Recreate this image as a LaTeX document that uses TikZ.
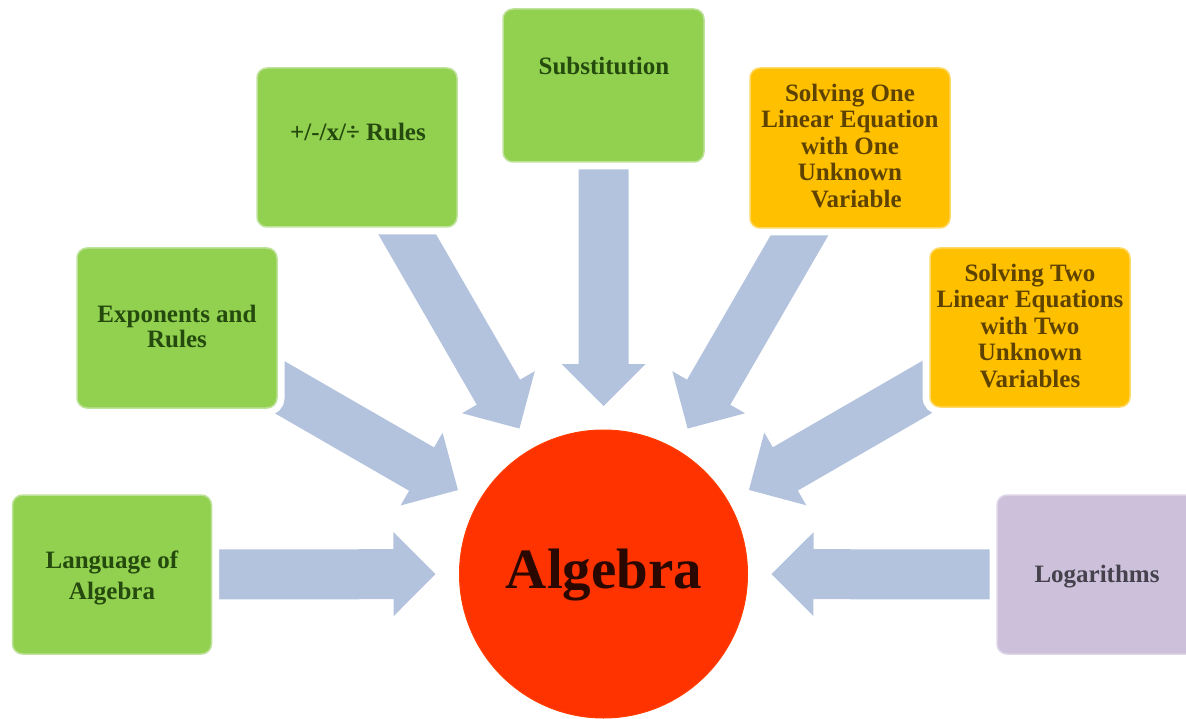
\documentclass[tikz,border=0pt]{standalone}
\usepackage{fontspec}
\setmainfont{Liberation Serif}
\usetikzlibrary{calc,backgrounds}
\definecolor{boxgreen}{HTML}{92D050}
\definecolor{greenedge}{HTML}{BFE29A}
\definecolor{boxyellow}{HTML}{FFC000}
\definecolor{yellowedge}{HTML}{FFD966}
\definecolor{boxpurple}{HTML}{CCC0DA}
\definecolor{purpleedge}{HTML}{DDD5E7}
\definecolor{arrowblue}{HTML}{B3C3DE}
\definecolor{circred}{HTML}{FF3300}
\definecolor{greentext}{HTML}{244A0E}
\definecolor{yellowtext}{HTML}{5E4200}
\definecolor{purpletext}{HTML}{45424D}
\definecolor{algtext}{HTML}{2A0800}
\newcommand{\radarrow}[1]{%
  \coordinate (#1-tip) at ($(alg.center)!168pt!(#1.center)$);
  \coordinate (#1-hb) at ($(#1-tip)!42pt!(#1.center)$);
  \fill[arrowc] ($(#1.center)!25pt!90:(#1-tip)$) -- ($(#1-hb)!25pt!-90:(#1.center)$)
    -- ($(#1-hb)!42pt!-90:(#1.center)$) -- (#1-tip)
    -- ($(#1-hb)!42pt!90:(#1.center)$) -- ($(#1-hb)!25pt!90:(#1.center)$)
    -- ($(#1.center)!25pt!-90:(#1-tip)$) -- cycle;}
\begin{document}
\begin{tikzpicture}[x=1pt,y=-1pt,
  arrowc/.style={fill=arrowblue},
  boxbase/.style={rectangle, rounded corners=10pt, inner sep=0pt, line width=1.5pt,
    preaction={draw=white, line width=15pt}},
  gbox/.style={boxbase, fill=boxgreen, draw=greenedge},
  ybox/.style={boxbase, fill=boxyellow, draw=yellowedge},
  pbox/.style={boxbase, fill=boxpurple, draw=purpleedge},
  gtxt/.style={font=\bfseries\fontsize{25}{27}\selectfont, align=center, text=greentext, inner sep=0pt},
  ytxt/.style={font=\bfseries\fontsize{25}{26.5}\selectfont, align=center, text=yellowtext, inner sep=0pt},
  ptxt/.style={font=\bfseries\fontsize{25}{27}\selectfont, align=center, text=purpletext, inner sep=0pt}]
\useasboundingbox (0,0) rectangle (1186,719);
\clip (0,0) rectangle (1186,719);

\node[circle, fill=circred, draw=circred!85!orange, line width=1pt, minimum size=288pt, inner sep=0pt] (alg) at (603.5,574) {};
\node[anchor=base, font=\bfseries\fontsize{57}{62}\selectfont, text=algtext, inner sep=0pt] (algt) at (604,588) {Algebra};

\node[gbox, minimum width=199pt, minimum height=159pt] (lang) at (112,574.5) {};
\node[gbox, minimum width=200pt, minimum height=160pt] (expo) at (177,328) {};
\node[gbox, minimum width=200pt, minimum height=159pt] (rules) at (357,147.5) {};
\node[gbox, minimum width=201pt, minimum height=153pt] (subst) at (603.5,85.5) {};
\node[ybox, minimum width=200pt, minimum height=160pt] (one) at (850,148) {};
\node[ybox, minimum width=200pt, minimum height=159pt] (two) at (1030,327.5) {};
\node[pbox, minimum width=200pt, minimum height=159pt] (logb) at (1097,574.5) {};

\node[gtxt, font=\bfseries\fontsize{25}{31}\selectfont] (langt) at (112,578) {Language of\\Algebra};
\node[gtxt, font=\bfseries\fontsize{25}{25}\selectfont] (expot) at (177,326) {Exponents and\\Rules};
\node[gtxt] (rulest) at (358,132) {+/-/x/÷ Rules};
\node[gtxt] (substt) at (604,66) {Substitution};
\node[ytxt] (onet) at (850,146) {Solving One\\Linear Equation\\with One\\Unknown\\\ \ Variable};
\node[ytxt] (twot) at (1030,326) {Solving Two\\Linear Equations\\with Two\\Unknown\\Variables};
\node[ptxt] (logt) at (1097,577) {Logarithms};

\begin{scope}[on background layer]
\radarrow{lang}
\radarrow{expo}
\radarrow{rules}
\radarrow{subst}
\radarrow{one}
\radarrow{two}
\radarrow{logb}
\end{scope}
\end{tikzpicture}
\end{document}
